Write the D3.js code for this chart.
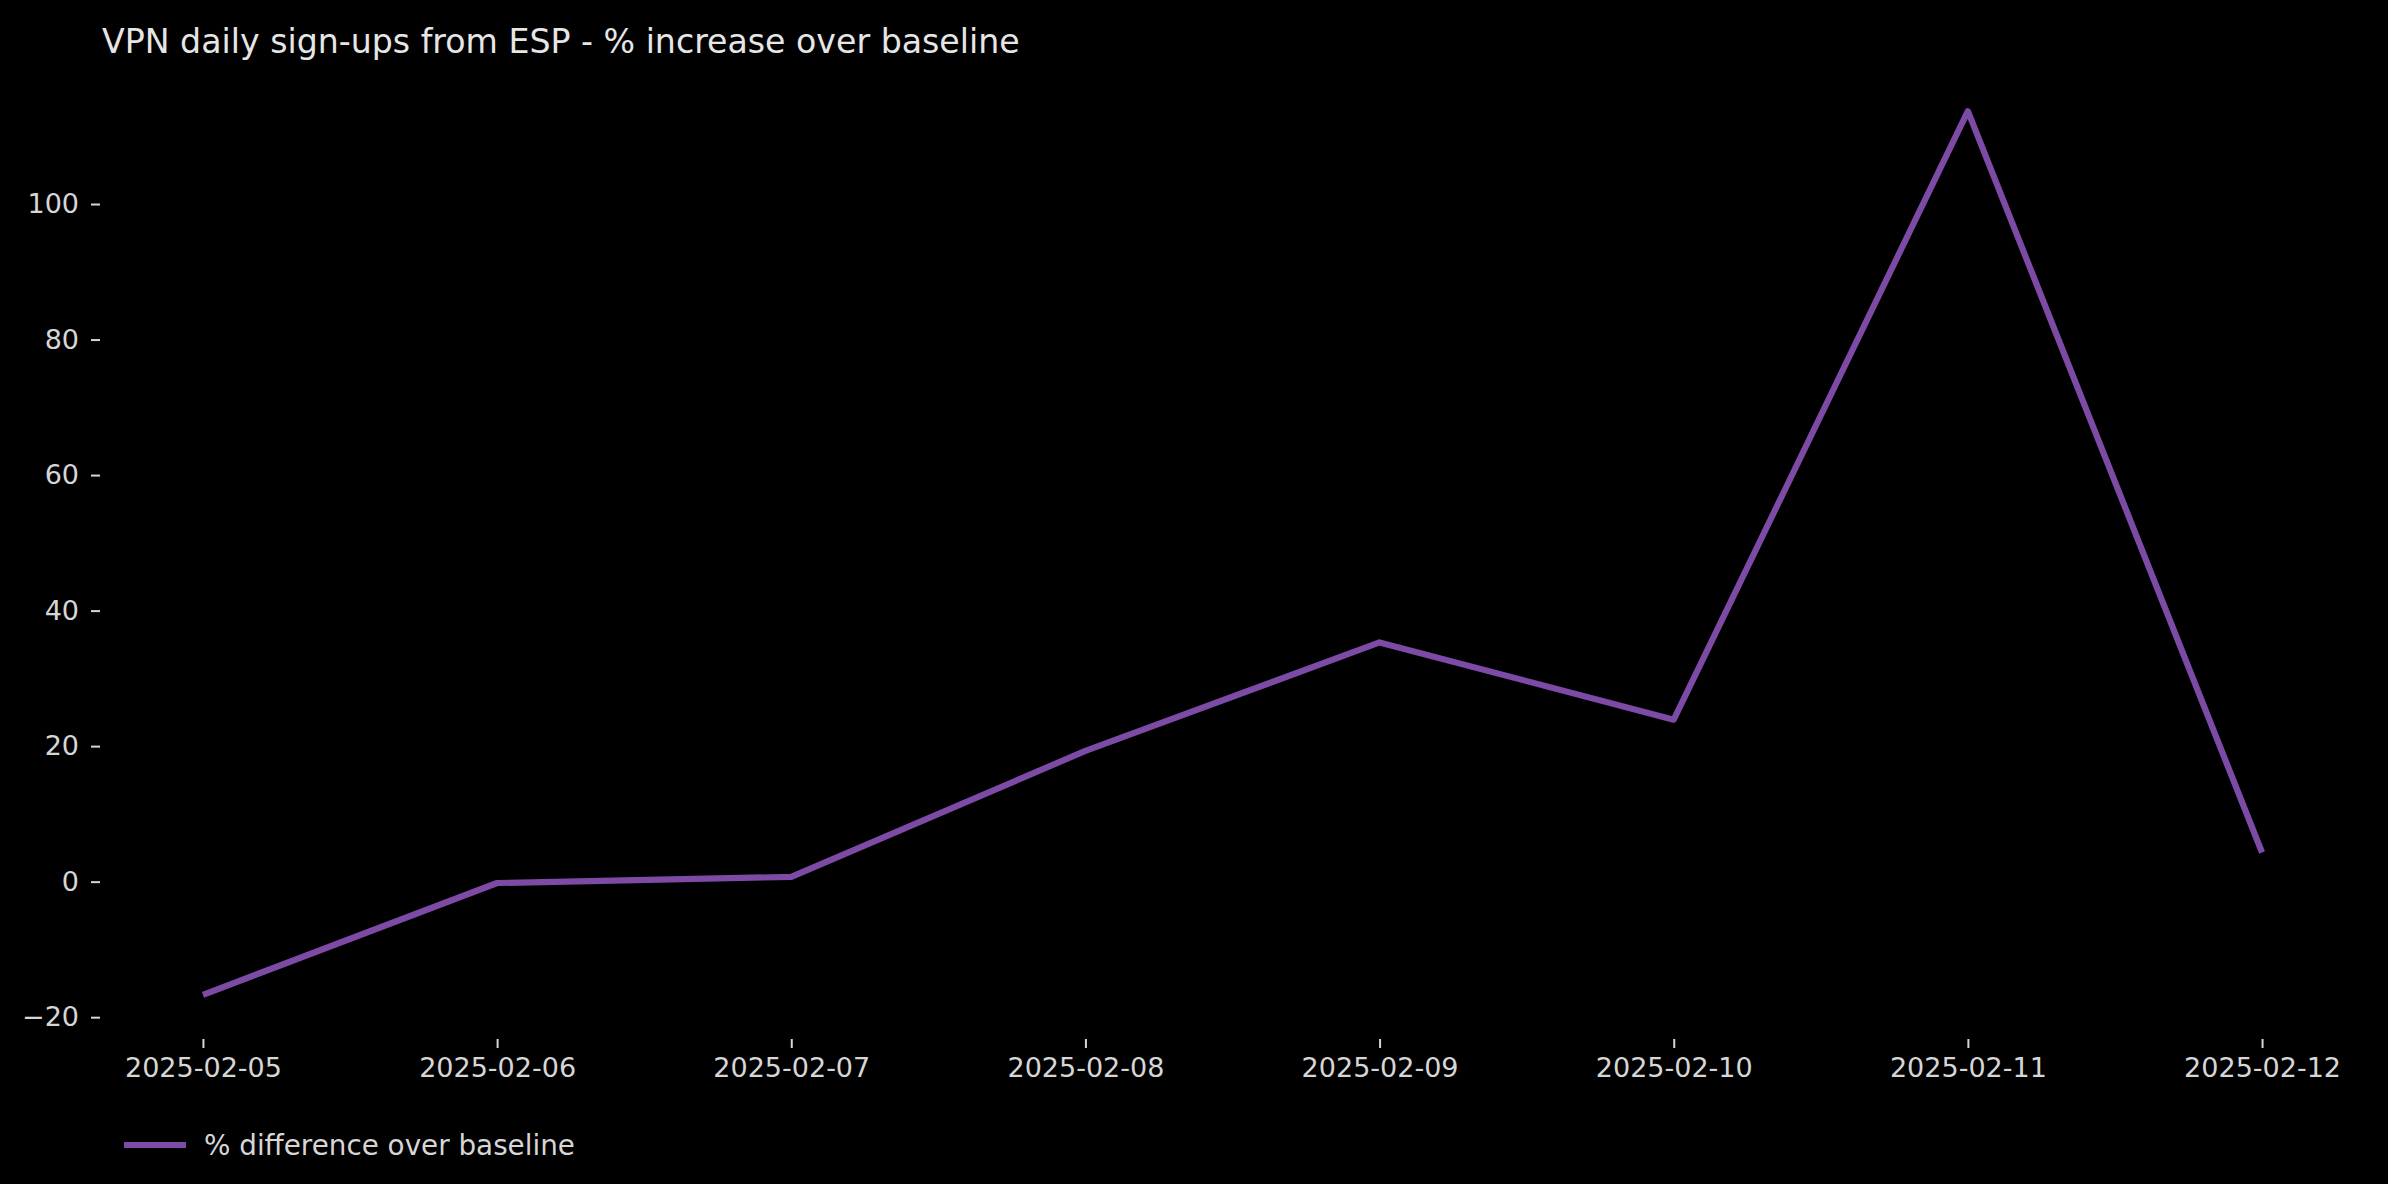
<!DOCTYPE html>
<html>
<head>
<meta charset="utf-8">
<script src="https://cdn.jsdelivr.net/npm/d3@7"></script>
<style>
  html, body { margin: 0; padding: 0; background: #000; }
  svg { display: block; }
  text { font-family: "DejaVu Sans", sans-serif; }
</style>
</head>
<body>
<script>
const dates = ["2025-02-05","2025-02-06","2025-02-07","2025-02-08","2025-02-09","2025-02-10","2025-02-11","2025-02-12"];
const pctDiff = [-16.7, -0.2, 0.7, 19.3, 35.3, 23.9, 113.7, 4.3];
const yTicks = [-20, 0, 20, 40, 60, 80, 100];
const titleText = "VPN daily sign-ups from ESP - % increase over baseline";
const seriesName = "% difference over baseline";

const W = 2388, H = 1184;
const M = { left: 100, right: 2365, top: 67, bottom: 1039 };
const parse = d3.utcParse("%Y-%m-%d");
const fmt = d3.utcFormat("%Y-%m-%d");
const data = dates.map((d, i) => ({ date: parse(d), v: pctDiff[i] }));

const svg = d3.select("body").append("svg").attr("width", W).attr("height", H);
svg.append("rect").attr("width", W).attr("height", H).attr("fill", "#000");

const xExt = d3.extent(data, d => d.date);
const xPad = (xExt[1] - xExt[0]) * 0.05;
const x = d3.scaleUtc().domain([new Date(+xExt[0] - xPad), new Date(+xExt[1] + xPad)]).range([M.left, M.right]);
const yExt = d3.extent(pctDiff);
const yPad = (yExt[1] - yExt[0]) * 0.05;
const y = d3.scaleLinear().domain([yExt[0] - yPad, yExt[1] + yPad]).range([M.bottom, M.top]);

const textColor = "#d6d6d6";

const xAxis = d3.axisBottom(x).tickValues(data.map(d => d.date)).tickFormat(fmt).tickSize(9).tickPadding(10);
const gx = svg.append("g").attr("transform", `translate(0,${M.bottom})`).call(xAxis);
gx.select(".domain").remove();
gx.selectAll("line").attr("stroke", textColor).attr("stroke-width", 2);
gx.selectAll("text").attr("fill", textColor).attr("font-size", 27).attr("font-family", "DejaVu Sans");

const yAxis = d3.axisLeft(y).tickValues(yTicks).tickFormat(d => d < 0 ? "\u2212" + Math.abs(d) : d).tickSize(9).tickPadding(12);
const gy = svg.append("g").attr("transform", `translate(${M.left},0)`).call(yAxis);
gy.select(".domain").remove();
gy.selectAll("line").attr("stroke", textColor).attr("stroke-width", 2);
gy.selectAll("text").attr("fill", textColor).attr("font-size", 27).attr("font-family", "DejaVu Sans");

const lineColor = "#7d4ba6";
const line = d3.line().x(d => x(d.date)).y(d => y(d.v));
svg.append("path").datum(data).attr("d", line)
  .attr("fill", "none").attr("stroke", lineColor).attr("stroke-width", 6.2)
  .attr("stroke-linejoin", "round").attr("stroke-linecap", "butt");

svg.append("text").attr("x", 102).attr("y", 53).attr("fill", "#e6e6e6")
  .attr("font-size", 33.2).text(titleText);

const leg = svg.append("g");
leg.append("line").attr("x1", 124).attr("x2", 186).attr("y1", 1145).attr("y2", 1145)
  .attr("stroke", lineColor).attr("stroke-width", 6.2);
leg.append("text").attr("x", 204).attr("y", 1145).attr("dy", "0.35em")
  .attr("fill", textColor).attr("font-size", 27.8).text(seriesName);
</script>
</body>
</html>
